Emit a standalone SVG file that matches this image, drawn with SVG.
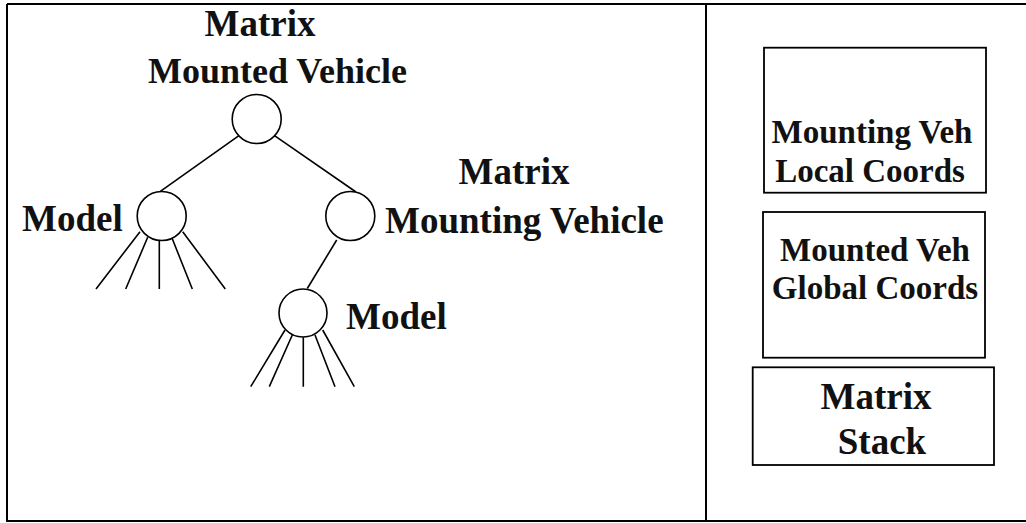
<svg xmlns="http://www.w3.org/2000/svg" width="1026" height="523" viewBox="0 0 1026 523">
<style>
  .frame { fill: none; stroke: #000; stroke-width: 2; }
  .node { fill: #fff; stroke: #000; stroke-width: 1.6; }
  .edge { fill: none; stroke: #000; stroke-width: 1.6; }
  .box { fill: #fff; stroke: #000; stroke-width: 1.8; }
  .lbl { font-family: "Liberation Serif", "Times New Roman", serif; font-weight: bold; font-size: 37px; fill: #111; }
  .blbl { font-family: "Liberation Serif", "Times New Roman", serif; font-weight: bold; font-size: 33px; fill: #111; text-anchor: middle; }
  .mid { text-anchor: middle; }
</style>
<rect width="1026" height="523" fill="#fff"/>
<g id="frame">
  <path class="frame" d="M7,4 H1026 M7,4 V521 H1026 M706,4 V521"/>
</g>
<g id="connectors">
  <path class="edge" d="M240.7,134.3 L160,191.7"/>
  <path class="edge" d="M272.7,134.3 L356,192"/>
  <path class="edge" d="M336.7,240 L307.3,288.5"/>
  <path class="edge" d="M140,231.7 L96,289 M147.7,237.3 L125.7,289 M159.3,240.7 L159.3,289 M171.7,237.3 L192.3,289 M182.7,231.7 L225.3,289"/>
  <path class="edge" d="M285,330 L250.7,386.7 M292.3,335 L269.3,386.7 M303.3,337.3 L303.3,386.7 M315,335 L335,386.7 M322.7,330 L354.3,386.7"/>
</g>
<g id="root">
  <circle class="node" cx="256.7" cy="119" r="24.5"/>
  <text class="lbl mid" x="260" y="36">Matrix</text>
  <text class="lbl" x="148" y="83" style="font-size:36px">Mounted Vehicle</text>
</g>
<g id="model-left">
  <circle class="node" cx="161.7" cy="216" r="24.5"/>
  <text class="lbl" x="22" y="231">Model</text>
</g>
<g id="mounting">
  <circle class="node" cx="350.3" cy="216" r="24.5"/>
  <text class="lbl mid" x="514" y="184">Matrix</text>
  <text class="lbl" x="385" y="233">Mounting Vehicle</text>
</g>
<g id="model-bottom">
  <circle class="node" cx="303" cy="313" r="24"/>
  <text class="lbl" x="346" y="329">Model</text>
</g>
<g id="box-local">
  <rect class="box" x="764" y="47.7" width="222" height="145"/>
  <text class="blbl" x="872" y="143">Mounting Veh</text>
  <text class="blbl" x="870" y="182">Local Coords</text>
</g>
<g id="box-global">
  <rect class="box" x="763" y="212" width="222" height="145.7"/>
  <text class="blbl" x="875" y="261">Mounted Veh</text>
  <text class="blbl" x="875" y="299">Global Coords</text>
</g>
<g id="box-stack">
  <rect class="box" x="752.7" y="367.3" width="241.3" height="97.7"/>
  <text class="lbl mid" x="876" y="409">Matrix</text>
  <text class="lbl mid" x="882" y="454">Stack</text>
</g>
</svg>
